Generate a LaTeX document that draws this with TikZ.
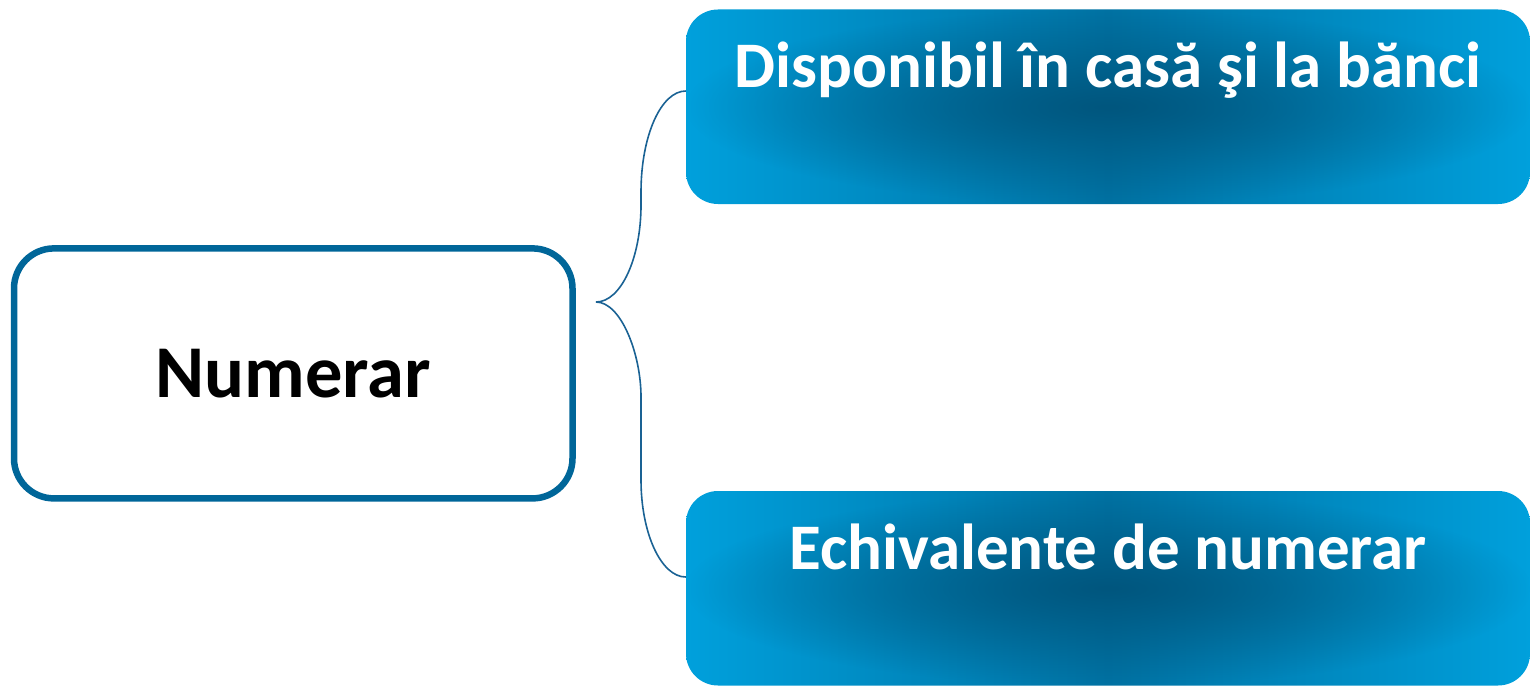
\documentclass[tikz,border=0pt]{standalone}
\usepackage{fontspec}
\setmainfont{Carlito}
\usetikzlibrary{fadings,calc}
\definecolor{frameblue}{RGB}{0,102,153}
\definecolor{edgeblue}{RGB}{0,160,220}
\definecolor{midblue}{RGB}{0,114,163}
\definecolor{coreblue}{RGB}{0,86,126}
\definecolor{bracecol}{RGB}{26,98,148}
\tikzfading[name=glow, inner color=transparent!0, outer color=transparent!100]
\tikzset{
  mainbox/.style={draw=frameblue, line width=6.5pt, rounded corners=40pt, fill=white,
    minimum width=558.5pt, minimum height=250pt, inner sep=0pt,
    font=\bfseries\fontsize{74.5}{80}\selectfont, text=black},
  bluebox/.style={rounded corners=32pt, minimum width=844pt, minimum height=194.5pt,
    inner sep=0pt, text height=78pt, text depth=116.5pt,
    left color=edgeblue, right color=edgeblue, middle color=midblue,
    path picture={\fill[coreblue, path fading=glow]
      (path picture bounding box.south west) rectangle (path picture bounding box.north east);},
    font=\bfseries\fontsize{65}{70}\selectfont, text=white},
  bracestyle/.style={draw=bracecol, line width=1.6pt}
}
\begin{document}
\begin{tikzpicture}[x=1pt,y=-1pt]
\useasboundingbox (0,0) rectangle (1530,685);
\node[mainbox] (num) at (293.25,373.4) {Numerar};
\node[bluebox] (top) at (1108,106.75) {Disponibil în casă şi la bănci};
\node[bluebox] (bot) at (1108,588.25) {Echivalente de numerar};
\coordinate (tip) at (596,302);
\coordinate (topend) at (top.west |- 0,91);
\coordinate (botend) at (bot.west |- 0,577);
\draw[bracestyle] (tip) .. controls (621,302) and (641,258) .. (641,205)
  -- (641,192) .. controls (641,136) and (661,91) .. (topend);
\draw[bracestyle] (tip) .. controls (621,302) and (641,354) .. (641,397)
  -- (641,480) .. controls (641,533) and (661,577) .. (botend);
\end{tikzpicture}
\end{document}
